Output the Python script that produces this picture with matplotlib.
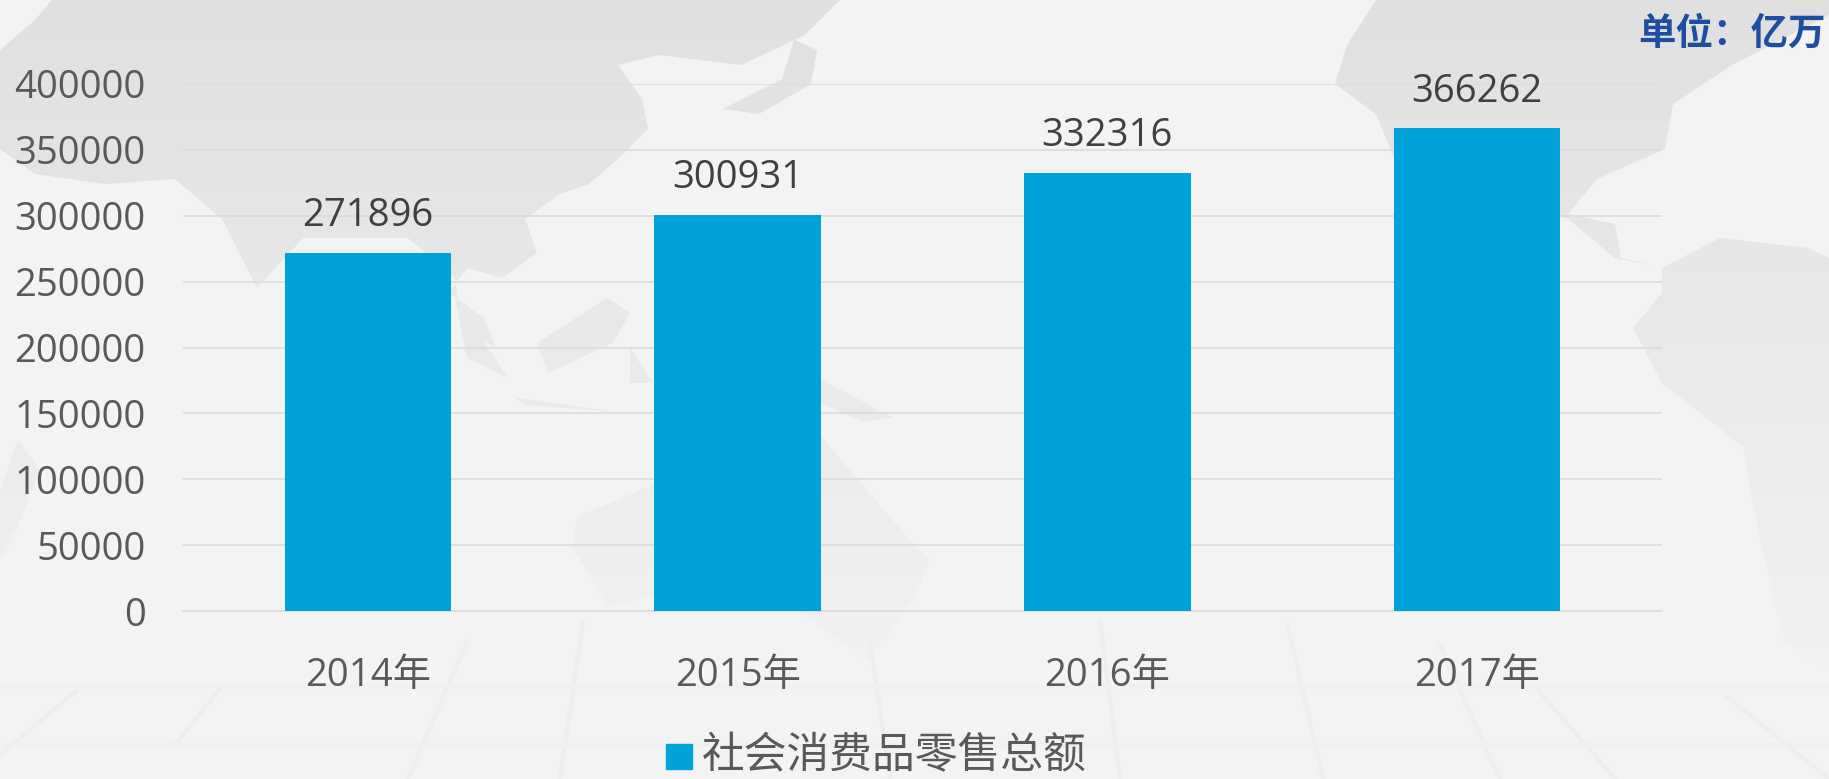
import numpy as np
import matplotlib
matplotlib.use("Agg")
from matplotlib import pyplot as plt
from matplotlib.patches import Polygon, Rectangle

plt.rcParams['font.family'] = ['Open Sans', 'Noto Sans CJK SC']

years = ['2014年', '2015年', '2016年', '2017年']
retail_total = [271896, 300931, 332316, 366262]
y_ticks = [0, 50000, 100000, 150000, 200000, 250000, 300000, 350000, 400000]
legend_label = '社会消费品零售总额'
unit_label = '单位：亿万'

W, H = 1829, 779
BG = '#f3f3f3'
BAR = '#00a2da'

# rough outlines of the backdrop map, in pixels of the full picture
land = [
    # asia
    [(0, 50), (35, 20), (52, 0), (840, 0), (805, 35), (741, 65), (700, 60), (659, 55),
     (618, 65), (642, 99), (648, 129), (618, 159), (589, 184), (560, 194), (525, 219),
     (537, 253), (502, 278), (467, 268), (449, 293), (484, 318), (496, 348), (461, 328),
     (455, 278), (408, 238), (303, 238), (257, 288), (222, 219), (175, 179), (105, 184),
     (35, 174), (0, 149)],
    # japan
    [(723, 109), (782, 79), (794, 40), (817, 50), (811, 84), (759, 114)],
    # indonesia
    [(537, 343), (607, 298), (630, 313), (613, 343), (548, 373)],
    [(455, 298), (508, 378), (467, 358)],
    [(630, 348), (653, 383), (630, 383)],
    [(817, 378), (893, 417), (863, 422), (806, 397)],
    [(513, 397), (618, 412), (525, 405)],
    # australia
    [(578, 517), (659, 482), (718, 477), (817, 432), (915, 546), (930, 560), (915, 596),
     (869, 661), (799, 611), (700, 586), (607, 606), (572, 546)],
    # north america
    [(1376, 0), (1829, 0), (1829, 15), (1732, 65), (1673, 104), (1665, 149), (1597, 179),
     (1568, 214), (1615, 224), (1621, 258), (1662, 268), (1615, 258), (1568, 219),
     (1510, 199), (1399, 169), (1376, 114), (1335, 84), (1347, 45)],
    # south america
    [(1662, 268), (1720, 238), (1808, 248), (1829, 258), (1829, 671), (1784, 641),
     (1761, 546), (1743, 447), (1662, 383), (1633, 328), (1662, 293)],
    # africa edge
    [(0, 490), (18, 440), (40, 470), (12, 540), (0, 560)],
]
floor_lines = [
    (583, 621, 560, 779), (467, 641, 408, 779), (222, 686, 175, 745), (0, 755, 76, 691),
    (1288, 626, 1323, 779), (1440, 646, 1500, 779), (1539, 691, 1615, 779),
    (1726, 696, 1829, 779), (1100, 621, 1120, 779), (870, 640, 890, 779),
]
floor_bands = [686, 745]

fig = plt.figure(figsize=(W / 100, H / 100), dpi=100, facecolor=BG)

# backdrop, in pixel coordinates
bg = fig.add_axes([0, 0, 1, 1], zorder=0)
bg.set_xlim(0, W)
bg.set_ylim(H, 0)
bg.axis('off')
shade = np.linspace(0.875, 0.955, 256).reshape(-1, 1)
for outline in land:
    img = bg.imshow(shade, cmap='gray', vmin=0, vmax=1, extent=[0, W, H, 0],
                    aspect='auto', interpolation='bilinear')
    poly = Polygon(outline, closed=True, transform=bg.transData, facecolor='none', edgecolor='none')
    bg.add_patch(poly)
    img.set_clip_path(poly)
for x0, y0, x1, y1 in floor_lines:
    bg.plot([x0, x1], [y0, y1], color='#eeeeee', linewidth=3)
for y in floor_bands:
    bg.plot([0, W], [y, y], color='#f0f0f0', linewidth=3)
bg.set_xlim(0, W)
bg.set_ylim(H, 0)

# plot area in pixels: x 183-1662, y 84-611
ax = fig.add_axes([183 / W, 1 - 611 / H, (1662 - 183) / W, (611 - 84) / H], zorder=1)
ax.set_facecolor('none')
ax.bar(range(4), retail_total, width=0.45, color=BAR, zorder=3)
ax.set_xlim(-0.5, 3.5)
ax.set_ylim(0, 400000)
ax.set_yticks(y_ticks)
ax.set_xticks(range(4), years)
ax.grid(axis='y', color='#dcdcdc', linewidth=1.3, zorder=1)
ax.tick_params(length=0, labelsize=27.5, labelcolor='#595959')
ax.tick_params(axis='x', pad=33)
ax.tick_params(axis='y', pad=27)
for side in ['top', 'left', 'right']:
    ax.spines[side].set_visible(False)
ax.spines['bottom'].set_color('#dcdcdc')
ax.spines['bottom'].set_linewidth(1.3)

for i, v in enumerate(retail_total):
    ax.annotate(str(v), (i, v), xytext=(0, 26.5), textcoords='offset points',
                ha='center', va='center', fontsize=27.5, color='#404040')

# legend
fig.add_artist(Rectangle((666 / W, 1 - 769 / H), 26 / W, 25 / H,
                         transform=fig.transFigure, color=BAR))
fig.text(702 / W, 1 - 757 / H, legend_label, fontsize=30.8, color='#595959',
         ha='left', va='center', zorder=5)

fig.text(1826 / W, 1 - 35 / H, unit_label, fontsize=27, color='#1f4ea1',
         fontweight='bold', ha='right', va='center', zorder=5)

fig.savefig('out.png', dpi=100, facecolor=fig.get_facecolor())
